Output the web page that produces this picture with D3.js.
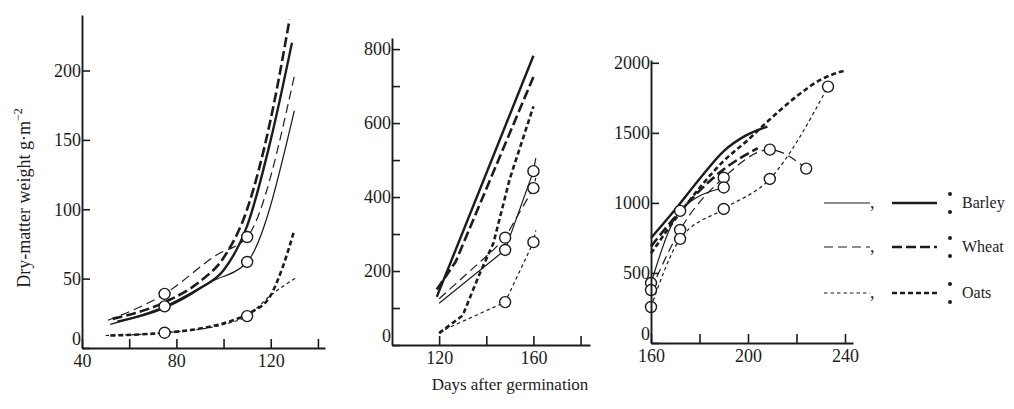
<!DOCTYPE html>
<html>
<head>
<meta charset="utf-8">
<script src="https://cdn.jsdelivr.net/npm/d3@7/dist/d3.min.js"></script>
<style>
  body { margin: 0; background: #fff; }
  svg text { font-family: "Liberation Serif", "DejaVu Serif", serif; fill: #1c1c1c; }
</style>
</head>
<body>
<svg id="chart" width="1014" height="409"></svg>
<script>
// ---- data: [day, g/m2] ----
// panel 1 (days 40-140)
const p1BarleyThin = [[52,17],[75,30],[95,48],[110,62],[130,171]];
const p1BarleyThick = [[55,19],[75,29],[90,43],[100,56],[110,88],[120,150],[129,220]];
const p1WheatThin = [[51,20],[75,39],[97,67],[110,80],[130,196]];
const p1WheatThick = [[53,21],[75,33],[90,48],[100,65],[110,100],[120,165],[128,237]];
const p1OatsThin = [[50,9],[75,11],[100,17],[110,23],[120,38],[131,51]];
const p1OatsThick = [[52,9],[75,11],[90,14],[104,20],[112,26],[120,38],[125,58],[130,85]];
const p1Circles = [[75,39],[75,30],[75,11],[110,80],[110,62],[110,23]];

// panel 2 (days 100-180)
const p2BarleyThin = [[120,113],[148,257],[160,470],[161,505]];
const p2BarleyThick = [[119,130],[160,782]];
const p2WheatThin = [[120,125],[143,257],[148,290],[160,424],[161,452]];
const p2WheatThick = [[119,150],[127,225],[160,725]];
const p2OatsThin = [[120,35],[148,116],[160,278],[161,310]];
const p2OatsThick = [[120,32],[130,80],[137,190],[143,275],[150,450],[160,645]];
const p2Circles = [[148,290],[148,257],[148,116],[160,470],[160,424],[160,278]];

// panel 3 (days 160-240)
const p3BarleyThin = [[160,428],[172,943],[190,1110]];
const p3BarleyThick = [[160,750],[171,975],[180,1170],[190,1370],[199,1480],[208,1545]];
const p3WheatThin = [[160,378],[172,807],[190,1180],[209,1380],[224,1245]];
const p3WheatThick = [[160,690],[172,940],[190,1240],[204,1390]];
const p3OatsThin = [[160,257],[172,743],[190,957],[209,1171],[233,1830]];
const p3OatsThick = [[160,640],[172,930],[190,1300],[200,1450],[208,1580],[220,1760],[230,1880],[240,1945]];
const p3Circles = [[160,428],[160,378],[160,257],[172,943],[172,807],[172,743],[190,1180],[190,1110],[190,957],[209,1380],[209,1171],[224,1245],[233,1830]];

// axes ticks
const p1XTicks = [40,60,80,100,120,140], p1XLabels = [40,80,120];
const p1YTicks = [0,50,100,150,200], p1YLabels = [0,50,100,150,200];
const p2XTicks = [120,140,160,180], p2XLabels = [120,160];
const p2YTicks = [0,100,200,300,400,500,600,700,800], p2YLabels = [0,200,400,600,800];
const p3XTicks = [160,180,200,220,240], p3XLabels = [160,200,240];
const p3YTicks = [0,500,1000,1500,2000], p3YLabels = [0,500,1000,1500,2000];

const crops = ["Barley", "Wheat", "Oats"];

// ---- styles ----
const ink = "#1c1c1c";
const lineStyles = {
  BarleyThin:  {w: 1.2, dash: null},
  BarleyThick: {w: 2.4, dash: null},
  WheatThin:   {w: 1.2, dash: "9,5"},
  WheatThick:  {w: 2.6, dash: "10,4"},
  OatsThin:    {w: 1.2, dash: "3.5,3"},
  OatsThick:   {w: 2.6, dash: "5,3"}
};

const panels = [
  {xRange: [82, 325], yRange: [348, 15], xDom: [40, 143], yDom: [0, 240], curve: d3.curveMonotoneX,
   xTicks: p1XTicks, xLabels: p1XLabels, yTicks: p1YTicks, yLabels: p1YLabels,
   series: {BarleyThin: p1BarleyThin, BarleyThick: p1BarleyThick, WheatThin: p1WheatThin,
            WheatThick: p1WheatThick, OatsThin: p1OatsThin, OatsThick: p1OatsThick},
   circles: p1Circles},
  {xRange: [392, 590], yRange: [345, 38], xDom: [100, 184], yDom: [0, 830], curve: d3.curveLinear,
   xTicks: p2XTicks, xLabels: p2XLabels, yTicks: p2YTicks, yLabels: p2YLabels,
   series: {BarleyThin: p2BarleyThin, BarleyThick: p2BarleyThick, WheatThin: p2WheatThin,
            WheatThick: p2WheatThick, OatsThin: p2OatsThin, OatsThick: p2OatsThick},
   circles: p2Circles},
  {xRange: [651, 853], yRange: [343, 60], xDom: [160, 243.3], yDom: [0, 2020], curve: d3.curveMonotoneX,
   xTicks: p3XTicks, xLabels: p3XLabels, yTicks: p3YTicks, yLabels: p3YLabels,
   series: {BarleyThin: p3BarleyThin, BarleyThick: p3BarleyThick, WheatThin: p3WheatThin,
            WheatThick: p3WheatThick, OatsThin: p3OatsThin, OatsThick: p3OatsThick},
   circles: p3Circles}
];

const svg = d3.select("#chart");

panels.forEach(p => {
  const x = d3.scaleLinear().domain(p.xDom).range(p.xRange);
  const y = d3.scaleLinear().domain(p.yDom).range(p.yRange);
  const g = svg.append("g");

  const line = d3.line()
    .x(d => x(d[0]))
    .y(d => y(d[1]))
    .curve(p.curve);

  Object.entries(p.series).forEach(([key, data]) => {
    const s = lineStyles[key];
    g.append("path")
      .datum(data)
      .attr("d", line)
      .attr("fill", "none")
      .attr("stroke", ink)
      .attr("stroke-width", s.w)
      .attr("stroke-dasharray", s.dash);
  });

  g.selectAll("circle.pt")
    .data(p.circles)
    .join("circle")
    .attr("class", "pt")
    .attr("cx", d => x(d[0]))
    .attr("cy", d => y(d[1]))
    .attr("r", 5.5)
    .attr("fill", "#fff")
    .attr("stroke", ink)
    .attr("stroke-width", 1.4);

  const xAxis = g.append("g")
    .attr("transform", `translate(0,${p.yRange[0]})`)
    .call(d3.axisBottom(x).tickValues(p.xTicks)
      .tickFormat(d => p.xLabels.includes(d) ? d : "")
      .tickSizeInner(-9).tickSizeOuter(0).tickPadding(6));

  const yAxis = g.append("g")
    .attr("transform", `translate(${p.xRange[0]},0)`)
    .call(d3.axisLeft(y).tickValues(p.yTicks)
      .tickFormat(d => p.yLabels.includes(d) ? d : "")
      .tickSizeInner(-8).tickSizeOuter(0).tickPadding(1));

  [xAxis, yAxis].forEach(a => {
    a.select(".domain").attr("stroke", ink).attr("stroke-width", 1.9);
    a.selectAll(".tick line").attr("stroke", ink).attr("stroke-width", 1.6);
    a.selectAll(".tick text").attr("font-size", 18).attr("fill", ink)
      .style("font-family", '"Liberation Serif", serif');
  });
  // lift the zero label off the x labels
  yAxis.selectAll(".tick").filter(d => d === 0).select("text").attr("y", -9);
});

// axis titles
svg.append("text")
  .attr("transform", "translate(30,198) rotate(-90)")
  .attr("text-anchor", "middle")
  .attr("font-size", 18)
  .text("Dry-matter weight  g·m")
  .append("tspan")
  .attr("dy", -8)
  .attr("font-size", 12)
  .text("−2");

svg.append("text")
  .attr("x", 510)
  .attr("y", 390)
  .attr("text-anchor", "middle")
  .attr("font-size", 17)
  .text("Days after germination");

// legend
const legendY = [203, 247, 293];
const legendKeys = ["Barley", "Wheat", "Oats"];
const legend = svg.append("g");
legendKeys.forEach((k, i) => {
  const yy = legendY[i];
  const thin = lineStyles[k + "Thin"], thick = lineStyles[k + "Thick"];
  legend.append("line").attr("x1", 824).attr("x2", 870).attr("y1", yy).attr("y2", yy)
    .attr("stroke", ink).attr("stroke-width", thin.w).attr("stroke-dasharray", thin.dash);
  legend.append("text").attr("x", 870).attr("y", yy + 5).attr("font-size", 18).text(",");
  legend.append("line").attr("x1", 892).attr("x2", 937).attr("y1", yy).attr("y2", yy)
    .attr("stroke", ink).attr("stroke-width", thick.w).attr("stroke-dasharray", thick.dash);
  legend.selectAll(null).data([-9, 9]).join("circle")
    .attr("cx", 950).attr("cy", d => yy + d).attr("r", 2).attr("fill", ink);
  legend.append("text").attr("x", 962).attr("y", yy + 5).attr("font-size", 16).text(crops[i]);
});
</script>
</body>
</html>
